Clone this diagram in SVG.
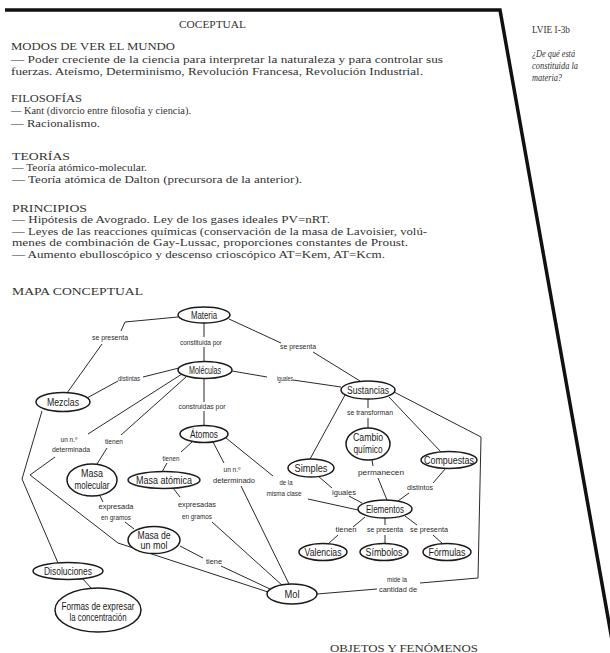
<svg xmlns="http://www.w3.org/2000/svg" width="610" height="653" viewBox="0 0 610 653">
<style>
.b{font-family:"Liberation Serif","Times New Roman",serif;font-size:10.5px;fill:#333}
.i{font-family:"Liberation Serif","Times New Roman",serif;font-size:11px;font-style:italic;fill:#333}
.n{font-family:"Liberation Sans",Arial,sans-serif;font-size:10px;fill:#1a1a1a;text-anchor:middle}
.e{font-family:"Liberation Sans",Arial,sans-serif;font-size:7px;fill:#2a2a2a;text-anchor:middle}
ellipse{fill:#fff;stroke:#1a1a1a;stroke-width:1.5}
.c path{fill:none;stroke:#2a2a2a;stroke-width:1}
</style>
<rect width="610" height="653" fill="#fff"/>
<path d="M5 10 L500 10 L612 640" fill="none" stroke="#111" stroke-width="3.5" stroke-linejoin="miter"/>
<g id="page-text">
<text class="b" x="179" y="28" textLength="67" lengthAdjust="spacingAndGlyphs">COCEPTUAL</text>
<text class="b" x="11" y="50" textLength="164" lengthAdjust="spacingAndGlyphs">MODOS DE VER EL MUNDO</text>
<text class="b" x="11" y="63" textLength="432" lengthAdjust="spacingAndGlyphs">— Poder creciente de la ciencia para interpretar la naturaleza y para controlar sus</text>
<text class="b" x="11" y="75" textLength="412" lengthAdjust="spacingAndGlyphs">fuerzas. Ateísmo, Determinismo, Revolución Francesa, Revolución Industrial.</text>
<text class="b" x="11" y="102" textLength="71" lengthAdjust="spacingAndGlyphs">FILOSOFÍAS</text>
<text class="b" x="11" y="114" textLength="180" lengthAdjust="spacingAndGlyphs">— Kant (divorcio entre filosofía y ciencia).</text>
<text class="b" x="11" y="127" textLength="89" lengthAdjust="spacingAndGlyphs">— Racionalismo.</text>
<text class="b" x="12" y="160" textLength="58" lengthAdjust="spacingAndGlyphs">TEORÍAS</text>
<text class="b" x="12" y="171" textLength="135" lengthAdjust="spacingAndGlyphs">— Teoría atómico-molecular.</text>
<text class="b" x="12" y="183" textLength="290" lengthAdjust="spacingAndGlyphs">— Teoría atómica de Dalton (precursora de la anterior).</text>
<text class="b" x="12" y="212" textLength="75" lengthAdjust="spacingAndGlyphs">PRINCIPIOS</text>
<text class="b" x="12" y="223" textLength="318" lengthAdjust="spacingAndGlyphs">— Hipótesis de Avogrado. Ley de los gases ideales PV=nRT.</text>
<text class="b" x="12" y="235" textLength="415" lengthAdjust="spacingAndGlyphs">— Leyes de las reacciones químicas (conservación de la masa de Lavoisier, volú-</text>
<text class="b" x="12" y="246" textLength="396" lengthAdjust="spacingAndGlyphs">menes de combinación de Gay-Lussac, proporciones constantes de Proust.</text>
<text class="b" x="12" y="258" textLength="373" lengthAdjust="spacingAndGlyphs">— Aumento ebulloscópico y descenso crioscópico AT=Kem, AT=Kcm.</text>
<text class="b" x="12" y="295" textLength="131" lengthAdjust="spacingAndGlyphs">MAPA CONCEPTUAL</text>
<text class="b" x="532" y="33" textLength="38" lengthAdjust="spacingAndGlyphs">LVIE I-3b</text>
<text class="i" x="532" y="57" textLength="43" lengthAdjust="spacingAndGlyphs">¿De qué está</text>
<text class="i" x="532" y="69" textLength="46" lengthAdjust="spacingAndGlyphs">constituida la</text>
<text class="i" x="532" y="81" textLength="30" lengthAdjust="spacingAndGlyphs">materia?</text>
<text class="b" x="330" y="652" textLength="148" lengthAdjust="spacingAndGlyphs">OBJETOS Y FENÓMENOS</text>
</g>
<g id="connectors" class="c">
<path d="M178 317 L125 322 L121 331"/>
<path d="M102 344 L67 393"/>
<path d="M204 323 L204 337 M204 347 L204 362"/>
<path d="M229 319 L281 343"/>
<path d="M313 352 L360 381"/>
<path d="M179 368 L143 377"/>
<path d="M118 381 L87 398"/>
<path d="M232 371 L267 377"/>
<path d="M293 380 L341 387"/>
<path d="M204 378 L204 402 M204 411 L204 426"/>
<path d="M182 374 L88 434"/>
<path d="M186 377 L121 435"/>
<path d="M55 457 L30 475 L118 543 L268 592"/>
<path d="M42 411 L22 479 L58 563"/>
<path d="M107 448 L97 464"/>
<path d="M100 496 L103 502"/>
<path d="M125 522 L134 529"/>
<path d="M192 442 L181 452"/>
<path d="M167 463 L162 472"/>
<path d="M213 442 L224 463"/>
<path d="M241 486 L289 584"/>
<path d="M226 438 L273 476"/>
<path d="M308 499 L358 510"/>
<path d="M173 488 L180 497"/>
<path d="M212 522 L283 586"/>
<path d="M180 546 L203 558"/>
<path d="M221 566 L270 589"/>
<path d="M82 578 L92 589"/>
<path d="M345 395 L310 459"/>
<path d="M368 399 L368 408 M368 418 L368 428"/>
<path d="M389 397 L441 452"/>
<path d="M394 392 L481 437 L478 578 L420 583"/>
<path d="M377 589 L317 594"/>
<path d="M372 460 L373 466"/>
<path d="M378 478 L387 500"/>
<path d="M446 468 L433 483"/>
<path d="M409 493 L398 501"/>
<path d="M318 476 L332 488"/>
<path d="M349 496 L362 503"/>
<path d="M365 517 L353 527"/>
<path d="M338 535 L328 544"/>
<path d="M385 518 L385 525 M385 535 L385 544"/>
<path d="M405 516 L417 525"/>
<path d="M433 535 L443 544"/>
<text class="e" x="110" y="340" textLength="36" lengthAdjust="spacingAndGlyphs">se presenta</text>
<text class="e" x="201" y="345" textLength="42" lengthAdjust="spacingAndGlyphs">constituida por</text>
<text class="e" x="298" y="349" textLength="36" lengthAdjust="spacingAndGlyphs">se presenta</text>
<text class="e" x="129" y="381" textLength="22" lengthAdjust="spacingAndGlyphs">distintas</text>
<text class="e" x="285" y="381" textLength="16" lengthAdjust="spacingAndGlyphs">iguales</text>
<text class="e" x="202" y="409" textLength="47" lengthAdjust="spacingAndGlyphs">construidas por</text>
<text class="e" x="69" y="442" textLength="17" lengthAdjust="spacingAndGlyphs">un n.º</text>
<text class="e" x="71" y="452" textLength="38" lengthAdjust="spacingAndGlyphs">determinada</text>
<text class="e" x="114" y="444" textLength="18" lengthAdjust="spacingAndGlyphs">tienen</text>
<text class="e" x="171" y="461" textLength="17" lengthAdjust="spacingAndGlyphs">tienen</text>
<text class="e" x="232" y="472" textLength="17" lengthAdjust="spacingAndGlyphs">un n.º</text>
<text class="e" x="234" y="483" textLength="42" lengthAdjust="spacingAndGlyphs">determinado</text>
<text class="e" x="286" y="485" textLength="13" lengthAdjust="spacingAndGlyphs">de la</text>
<text class="e" x="284" y="496" textLength="35" lengthAdjust="spacingAndGlyphs">misma clase</text>
<text class="e" x="116" y="509" textLength="35" lengthAdjust="spacingAndGlyphs">expresada</text>
<text class="e" x="116" y="520" textLength="30" lengthAdjust="spacingAndGlyphs">en gramos</text>
<text class="e" x="197" y="507" textLength="38" lengthAdjust="spacingAndGlyphs">expresadas</text>
<text class="e" x="197" y="519" textLength="30" lengthAdjust="spacingAndGlyphs">en gramos</text>
<text class="e" x="214" y="564" textLength="16" lengthAdjust="spacingAndGlyphs">tiene</text>
<text class="e" x="370" y="415" textLength="46" lengthAdjust="spacingAndGlyphs">se transforman</text>
<text class="e" x="381" y="475" textLength="46" lengthAdjust="spacingAndGlyphs">permanecen</text>
<text class="e" x="420" y="490" textLength="26" lengthAdjust="spacingAndGlyphs">distintos</text>
<text class="e" x="344" y="495" textLength="24" lengthAdjust="spacingAndGlyphs">iguales</text>
<text class="e" x="346" y="532" textLength="21" lengthAdjust="spacingAndGlyphs">tienen</text>
<text class="e" x="385" y="532" textLength="36" lengthAdjust="spacingAndGlyphs">se presenta</text>
<text class="e" x="429" y="532" textLength="38" lengthAdjust="spacingAndGlyphs">se presenta</text>
<text class="e" x="397" y="582" textLength="20" lengthAdjust="spacingAndGlyphs">mide la</text>
<text class="e" x="398" y="592" textLength="38" lengthAdjust="spacingAndGlyphs">cantidad de</text>
</g>
<g id="materia"><ellipse cx="204" cy="315" rx="26" ry="8"/><text class="n" x="204" y="318.5" textLength="26" lengthAdjust="spacingAndGlyphs">Materia</text></g>
<g id="moleculas"><ellipse cx="205" cy="370" rx="27" ry="8.5"/><text class="n" x="205" y="373.5" textLength="32" lengthAdjust="spacingAndGlyphs">Moléculas</text></g>
<g id="mezclas"><ellipse cx="63" cy="402" rx="27" ry="9.5"/><text class="n" x="63" y="405.5" textLength="32" lengthAdjust="spacingAndGlyphs">Mezclas</text></g>
<g id="atomos"><ellipse cx="204" cy="434" rx="24" ry="8.5"/><text class="n" x="204" y="437.5" textLength="28" lengthAdjust="spacingAndGlyphs">Átomos</text></g>
<g id="sustancias"><ellipse cx="368" cy="390" rx="27" ry="9"/><text class="n" x="368" y="393.5" textLength="42" lengthAdjust="spacingAndGlyphs">Sustancias</text></g>
<g id="cambio-quimico"><ellipse cx="368" cy="444" rx="22" ry="16"/><text class="n" x="368" y="441" textLength="30" lengthAdjust="spacingAndGlyphs">Cambio</text><text class="n" x="368" y="452.5" textLength="29" lengthAdjust="spacingAndGlyphs">químico</text></g>
<g id="compuestas"><ellipse cx="449" cy="460" rx="28" ry="8.5"/><text class="n" x="449" y="463.5" textLength="50" lengthAdjust="spacingAndGlyphs">Compuestas</text></g>
<g id="simples"><ellipse cx="311" cy="468" rx="23" ry="9"/><text class="n" x="311" y="471.5" textLength="33" lengthAdjust="spacingAndGlyphs">Simples</text></g>
<g id="elementos"><ellipse cx="385" cy="509" rx="27" ry="9"/><text class="n" x="385" y="512.5" textLength="38" lengthAdjust="spacingAndGlyphs">Elementos</text></g>
<g id="valencias"><ellipse cx="323" cy="552" rx="24" ry="8.5"/><text class="n" x="323" y="555.5" textLength="37" lengthAdjust="spacingAndGlyphs">Valencias</text></g>
<g id="simbolos"><ellipse cx="384" cy="552" rx="24" ry="8.5"/><text class="n" x="384" y="555.5" textLength="37" lengthAdjust="spacingAndGlyphs">Símbolos</text></g>
<g id="formulas"><ellipse cx="447" cy="552" rx="24" ry="8.5"/><text class="n" x="447" y="555.5" textLength="37" lengthAdjust="spacingAndGlyphs">Fórmulas</text></g>
<g id="mol"><ellipse cx="292" cy="594" rx="25" ry="10"/><text class="n" x="292" y="597.5" textLength="15" lengthAdjust="spacingAndGlyphs">Mol</text></g>
<g id="masa-molecular"><ellipse cx="92" cy="480" rx="25" ry="16"/><text class="n" x="92" y="477" textLength="22" lengthAdjust="spacingAndGlyphs">Masa</text><text class="n" x="92" y="489" textLength="35" lengthAdjust="spacingAndGlyphs">molecular</text></g>
<g id="masa-atomica"><ellipse cx="164" cy="480" rx="36" ry="8.5"/><text class="n" x="164" y="483.5" textLength="56" lengthAdjust="spacingAndGlyphs">Masa atómica</text></g>
<g id="masa-de-un-mol"><ellipse cx="154" cy="540" rx="26" ry="13.5"/><text class="n" x="154" y="538.5" textLength="33" lengthAdjust="spacingAndGlyphs">Masa de</text><text class="n" x="154" y="548.5" textLength="27" lengthAdjust="spacingAndGlyphs">un mol</text></g>
<g id="disoluciones"><ellipse cx="68" cy="571" rx="35" ry="8.5"/><text class="n" x="68" y="574.5" textLength="48" lengthAdjust="spacingAndGlyphs">Disoluciones</text></g>
<g id="formas"><ellipse cx="98" cy="610" rx="43" ry="22"/><text class="n" x="98" y="610" textLength="73" lengthAdjust="spacingAndGlyphs">Formas de expresar</text><text class="n" x="98" y="621" textLength="57" lengthAdjust="spacingAndGlyphs">la concentración</text></g>
</svg>
